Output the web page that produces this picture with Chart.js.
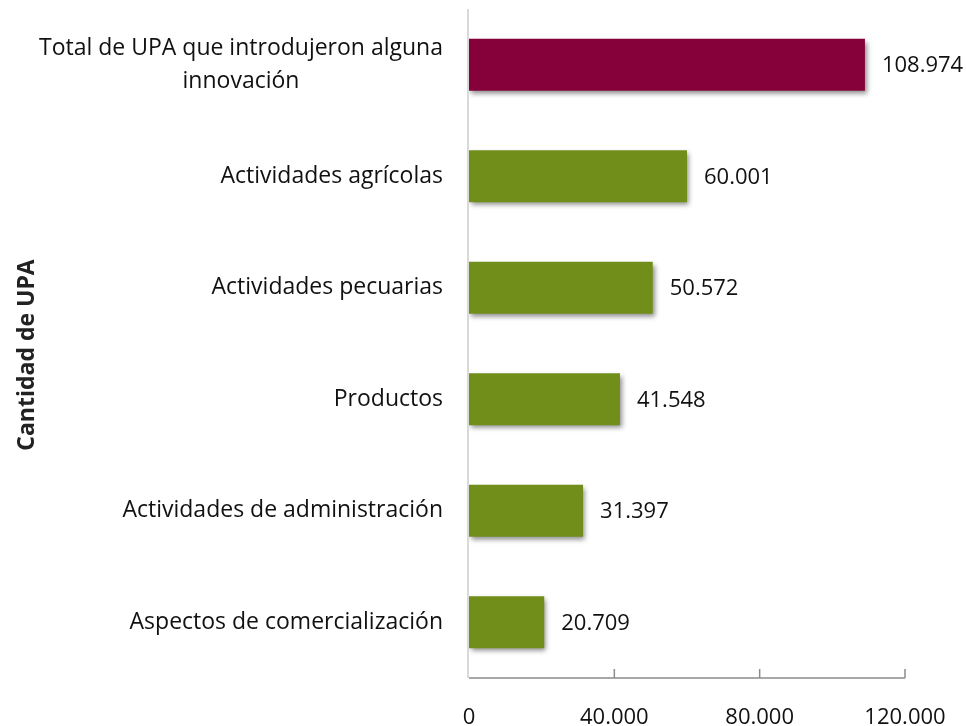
<!DOCTYPE html>
<html>
<head>
<meta charset="utf-8">
<script src="https://cdn.jsdelivr.net/npm/chart.js@4.4.1/dist/chart.umd.min.js"></script>
<style>
html,body{margin:0;padding:0;background:#fff;}
#wrap{width:966px;height:726px;position:relative;}
</style>
</head>
<body>
<div id="wrap"><canvas id="c" width="966" height="726"></canvas></div>
<script>
const categories = [
  ["Total de UPA que introdujeron alguna", "innovación"],
  ["Actividades agrícolas"],
  ["Actividades pecuarias"],
  ["Productos"],
  ["Actividades de administración"],
  ["Aspectos de comercialización"]
];
const values = [108974, 60001, 50572, 41548, 31397, 20709];
const barColors = ["#86003A", "#718E1A", "#718E1A", "#718E1A", "#718E1A", "#718E1A"];
const xTicks = [0, 40000, 80000, 120000];
const axisTitle = "Cantidad de UPA";

const FONT = "'Open Sans', 'Noto Sans', sans-serif";
const CAT_SIZE = 23;
const NUM_SIZE = 22;

function fmt(v) {
  return String(Math.round(v)).replace(/\B(?=(\d{3})+(?!\d))/g, ".");
}

const shadowPlugin = {
  id: 'shadow',
  beforeDatasetDraw(chart) {
    const ctx = chart.ctx;
    ctx.save();
    ctx.shadowColor = 'rgba(0,0,0,0.45)';
    ctx.shadowBlur = 5;
    ctx.shadowOffsetX = 2;
    ctx.shadowOffsetY = 3;
  },
  afterDatasetDraw(chart) {
    chart.ctx.restore();
  }
};

const decorPlugin = {
  id: 'decor',
  beforeDatasetsDraw(chart) {
    const ctx = chart.ctx;
    const xs = chart.scales.x;
    const area = chart.chartArea;
    ctx.save();
    ctx.strokeStyle = '#d9d9d9';
    ctx.lineWidth = 2;
    ctx.beginPath();
    ctx.moveTo(xs.getPixelForValue(0) - 1, area.top);
    ctx.lineTo(xs.getPixelForValue(0) - 1, area.bottom);
    ctx.stroke();
    ctx.strokeStyle = '#8c8c8c';
    ctx.lineWidth = 1.5;
    ctx.beginPath();
    ctx.moveTo(xs.getPixelForValue(0), area.bottom);
    ctx.lineTo(xs.getPixelForValue(xTicks[xTicks.length - 1]), area.bottom);
    xTicks.slice(1).forEach(t => {
      const px = xs.getPixelForValue(t);
      ctx.moveTo(px, area.bottom);
      ctx.lineTo(px, area.bottom - 9);
    });
    ctx.stroke();
    ctx.restore();
  },
  afterDraw(chart) {
    const ctx = chart.ctx;
    const xs = chart.scales.x, ys = chart.scales.y;
    ctx.save();
    ctx.font = CAT_SIZE + 'px ' + FONT;
    ctx.fillStyle = '#111';
    ctx.textBaseline = 'middle';
    const lineH = 33;
    categories.forEach((lines, i) => {
      const cy = ys.getPixelForValue(i);
      const widths = lines.map(l => ctx.measureText(l).width);
      const maxW = Math.max(...widths);
      const right = xs.getPixelForValue(0) - 26;
      const cx = right - maxW / 2;
      ctx.textAlign = 'center';
      lines.forEach((l, j) => {
        const y = cy + (j - (lines.length - 1) / 2) * lineH;
        ctx.fillText(l, cx, y);
      });
    });
    ctx.font = NUM_SIZE + 'px ' + FONT;
    ctx.textAlign = 'left';
    values.forEach((v, i) => {
      const cy = ys.getPixelForValue(i);
      ctx.fillText(fmt(v), xs.getPixelForValue(v) + 17, cy + 1);
    });
    ctx.font = 'bold ' + CAT_SIZE + 'px ' + FONT;
    ctx.fillStyle = '#222';
    ctx.translate(27, 355);
    ctx.rotate(-Math.PI / 2);
    ctx.textAlign = 'center';
    ctx.fillText(axisTitle, 0, 0);
    ctx.restore();
  }
};

new Chart(document.getElementById('c'), {
  type: 'bar',
  data: {
    labels: categories,
    datasets: [{
      data: values,
      backgroundColor: barColors,
      borderWidth: 0,
      barPercentage: 0.93,
      categoryPercentage: 0.5
    }]
  },
  options: {
    indexAxis: 'y',
    responsive: false,
    animation: false,
    events: [],
    layout: { padding: { left: 0, right: 61, top: 9, bottom: 0 } },
    plugins: { legend: { display: false }, tooltip: { enabled: false } },
    scales: {
      x: {
        min: 0, max: 120000,
        afterBuildTicks(scale) { scale.ticks = xTicks.map(v => ({ value: v })); },
        afterFit(scale) { scale.height = 48; },
        grid: { display: false },
        border: { display: false },
        ticks: {
          padding: 19,
          color: '#111',
          font: { family: FONT, size: NUM_SIZE },
          maxRotation: 0,
          callback: v => fmt(v)
        }
      },
      y: {
        afterFit(scale) { scale.width = 469; },
        grid: { display: false },
        border: { display: false },
        ticks: { display: false }
      }
    }
  },
  plugins: [decorPlugin, shadowPlugin]
});
</script>
</body>
</html>
